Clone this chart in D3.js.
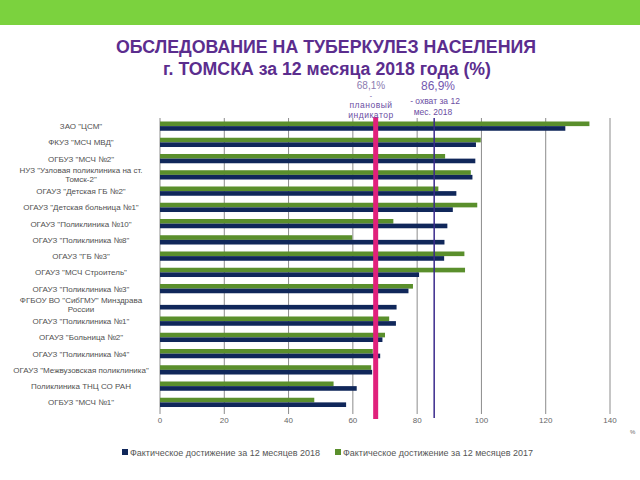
<!DOCTYPE html>
<html>
<head>
<meta charset="utf-8">
<script src="https://cdn.jsdelivr.net/npm/d3@7"></script>
<style>
  body { margin: 0; background: #fff; }
  svg { display: block; }
</style>
</head>
<body>
<div id="chart"></div>
<script>
// --- data -----------------------------------------------------------
const categories = [
  ['ЗАО "ЦСМ"'],
  ['ФКУЗ "МСЧ МВД"'],
  ['ОГБУЗ "МСЧ №2"'],
  ['НУЗ "Узловая поликлиника на ст.', 'Томск-2"'],
  ['ОГАУЗ "Детская ГБ №2"'],
  ['ОГАУЗ "Детская больница №1"'],
  ['ОГАУЗ "Поликлиника №10"'],
  ['ОГАУЗ "Поликлиника №8"'],
  ['ОГАУЗ "ГБ №3"'],
  ['ОГАУЗ "МСЧ Строитель"'],
  ['ОГАУЗ "Поликлиника №3"'],
  ['ФГБОУ ВО "СибГМУ" Минздрава', 'России'],
  ['ОГАУЗ "Поликлиника №1"'],
  ['ОГАУЗ "Больница №2"'],
  ['ОГАУЗ "Поликлиника №4"'],
  ['ОГАУЗ "Межвузовская поликлиника"'],
  ['Поликлиника ТНЦ СО РАН'],
  ['ОГБУЗ "МСЧ №1"']
];
const values2018 = [126.1, 98.3, 98.1, 97.2, 92.2, 91.1, 89.4, 88.5, 88.4, 80.6, 77.3, 73.6, 73.4, 69.2, 68.5, 66.0, 61.2, 57.9];
const values2017 = [133.6, 99.8, 88.7, 96.7, 86.6, 98.7, 72.6, 59.8, 94.7, 94.9, 78.7, 0, 71.3, 70.0, 66.2, 65.7, 54.0, 48.0];
const xTicks = [0, 20, 40, 60, 80, 100, 120, 140];
const planValue = 67.1;     // "68,1%" плановый индикатор
const coverValue = 85.3;    // "86,9%" охват за 12 мес. 2018
const legendLabels = ["Фактическое достижение за 12 месяцев 2018", "Фактическое достижение за 12 месяцев 2017"];

// --- setup ----------------------------------------------------------
const W = 640, H = 480;
const navy = "#10275a", green = "#5a8f2c";
const svg = d3.select("#chart").append("svg")
    .attr("width", W).attr("height", H);

// top banner
svg.append("rect").attr("x", 0).attr("y", 0).attr("width", W).attr("height", 25)
    .attr("fill", "#7bd23e");

// title
const title = svg.append("g")
    .attr("font-family", "'Liberation Sans Narrow', 'Liberation Sans', Arial, sans-serif")
    .attr("font-weight", "bold").attr("font-size", 18).attr("fill", "#5b2d8e")
    .attr("text-anchor", "middle");
title.append("text").attr("x", 326).attr("y", 53)
    .attr("textLength", 420).attr("lengthAdjust", "spacingAndGlyphs")
    .text("ОБСЛЕДОВАНИЕ НА ТУБЕРКУЛЕЗ НАСЕЛЕНИЯ");
title.append("text").attr("x", 327).attr("y", 75)
    .attr("textLength", 328).attr("lengthAdjust", "spacingAndGlyphs")
    .text("г. ТОМСКА за 12 месяца 2018 года (%)");

// scales
const x = d3.scaleLinear().domain([0, 140]).range([160, 610]);
const ids = d3.range(categories.length);
const y = d3.scaleBand().domain(ids).range([118, 410.5])
    .paddingInner(0.43).paddingOuter(0.215);
const sub = d3.scaleBand().domain(["2017", "2018"]).range([0, y.bandwidth()]);

// gridlines + ticks
const grid = svg.append("g");
grid.selectAll("line").data(xTicks.slice(1)).join("line")
    .attr("x1", d => x(d)).attr("x2", d => x(d))
    .attr("y1", 118).attr("y2", 414)
    .attr("stroke", "#8c8c8c").attr("stroke-width", 1);
svg.append("line").attr("x1", x(0)).attr("x2", x(0)).attr("y1", 118).attr("y2", 414)
    .attr("stroke", "#8c8c8c");

// bars
const rows = svg.append("g").selectAll("g").data(ids).join("g")
    .attr("transform", i => `translate(0,${y(i)})`);
rows.append("rect")
    .attr("x", x(0)).attr("y", sub("2017"))
    .attr("width", i => x(values2017[i]) - x(0)).attr("height", sub.bandwidth())
    .attr("fill", green);
rows.append("rect")
    .attr("x", x(0)).attr("y", sub("2018"))
    .attr("width", i => x(values2018[i]) - x(0)).attr("height", sub.bandwidth())
    .attr("fill", navy);

// category labels
const labels = svg.append("g")
    .attr("font-family", "'Liberation Sans', Arial, sans-serif")
    .attr("font-size", 8).attr("fill", "#505050").attr("text-anchor", "middle");
labels.selectAll("text").data(ids).join("text")
    .attr("x", 81)
    .attr("y", i => y(i) + y.bandwidth() / 2 + 3 - (categories[i].length - 1) * 4.5)
    .selectAll("tspan").data(i => categories[i]).join("tspan")
    .attr("x", 81).attr("dy", (d, k) => k ? 9 : 0)
    .text(d => d);

// x tick labels
svg.append("g")
    .attr("font-family", "'Liberation Sans', Arial, sans-serif")
    .attr("font-size", 8).attr("fill", "#666").attr("text-anchor", "middle")
    .selectAll("text").data(xTicks).join("text")
    .attr("x", d => x(d)).attr("y", 423).text(d => d);
svg.append("text").attr("x", 630).attr("y", 434)
    .attr("font-family", "'Liberation Sans', Arial, sans-serif")
    .attr("font-size", 6).attr("fill", "#666").text("%");

// reference lines
svg.append("line").attr("x1", x(coverValue)).attr("x2", x(coverValue))
    .attr("y1", 118).attr("y2", 418)
    .attr("stroke", "#3a2a8c").attr("stroke-width", 1.5);
svg.append("line").attr("x1", x(planValue)).attr("x2", x(planValue))
    .attr("y1", 117).attr("y2", 419)
    .attr("stroke", "#e0217c").attr("stroke-width", 5);

// annotations
const ann = svg.append("g")
    .attr("font-family", "'Liberation Sans', Arial, sans-serif")
    .attr("text-anchor", "middle");
ann.append("text").attr("x", 371).attr("y", 88.5)
    .attr("font-family", "'Liberation Sans Narrow', 'Liberation Sans', sans-serif")
    .attr("font-size", 10).attr("fill", "#8c7bb0").text("68,1%");
ann.append("text").attr("x", 371).attr("y", 98).attr("font-size", 7).attr("fill", "#6b4ea3").text("-");
ann.append("text").attr("x", 371).attr("y", 108).attr("font-size", 8.5).attr("fill", "#6b4ea3")
    .attr("letter-spacing", 0.5).text("плановый");
ann.append("text").attr("x", 371).attr("y", 118).attr("font-size", 8.5).attr("fill", "#6b4ea3")
    .attr("letter-spacing", 0.5).text("индикатор");
ann.append("text").attr("x", 438).attr("y", 90)
    .attr("font-family", "'Liberation Sans Narrow', 'Liberation Sans', sans-serif")
    .attr("font-size", 12).attr("fill", "#7458b0").text("86,9%");
ann.append("text").attr("x", 435).attr("y", 104).attr("font-size", 8.5).attr("fill", "#6b4ea3")
    .text("- охват за 12");
ann.append("text").attr("x", 433).attr("y", 115).attr("font-size", 8.5).attr("fill", "#6b4ea3")
    .text("мес. 2018");

// legend
const legend = svg.append("g")
    .attr("font-family", "'Liberation Sans', Arial, sans-serif")
    .attr("font-size", 8.8).attr("fill", "#555");
const legendX = [122, 335];
const legendC = [navy, green];
legendLabels.forEach((t, k) => {
  legend.append("rect").attr("x", legendX[k]).attr("y", 449).attr("width", 6).attr("height", 6)
      .attr("fill", legendC[k]);
  legend.append("text").attr("x", legendX[k] + 8).attr("y", 455.5)
      .attr("textLength", 190).attr("lengthAdjust", "spacingAndGlyphs").text(t);
});
</script>
</body>
</html>
